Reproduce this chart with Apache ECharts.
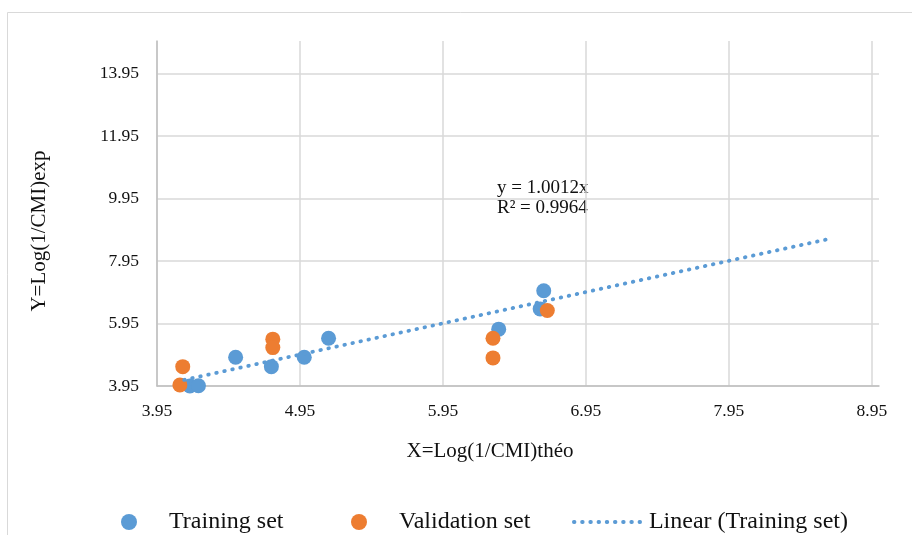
<!DOCTYPE html>
<html>
<head>
<meta charset="utf-8">
<script src="https://cdn.jsdelivr.net/npm/echarts@6/dist/echarts.min.js"></script>
<style>
  html, body { margin: 0; padding: 0; background: #fff; }
  #main { width: 912px; height: 535px; }
</style>
</head>
<body>
<div id="main"></div>
<script>
// points
var trainX = [4.18, 4.24, 4.50, 4.75, 4.98, 5.15, 6.34, 6.63, 6.655];
var trainY = [3.95, 3.96, 4.87, 4.57, 4.87, 5.48, 5.77, 6.42, 7.00];
var validX = [4.11, 4.13, 4.76, 4.76, 6.30, 6.30, 6.68];
var validY = [3.98, 4.57, 5.45, 5.18, 5.48, 4.85, 6.37];
// trendline ends (y = 1.0012x)
var trendX = [4.14, 8.66];
var trendY = [4.145, 8.67];

var legendNames = ['Training set', 'Validation set', 'Linear (Training set)'];
var eqLines = ['y = 1.0012x', 'R² = 0.9964'];

function pairs(xs, ys) {
  var out = [];
  for (var i = 0; i < xs.length; i++) out.push([xs[i], ys[i]]);
  return out;
}

var font = '"Liberation Serif", "Times New Roman", serif';
var trendStyle = { color: '#5b9bd5', width: 3.8, type: [0.6, 7.6], cap: 'round' };
var chart = echarts.init(document.getElementById('main'));

// one legend box per entry, so each can sit where it does in the picture
function legendBox(name, left, icon) {
  var item = { name: name };
  if (icon) item.icon = icon;
  else {
    item.itemStyle = { color: 'rgba(0,0,0,0)', borderColor: 'rgba(0,0,0,0)', opacity: 0 };
    item.lineStyle = trendStyle;
  }
  return {
    left: left, top: 505,
    itemWidth: 70, itemHeight: 16,
    textStyle: { fontFamily: font, fontSize: 24, color: '#111' },
    data: [item]
  };
}

var option = {
  backgroundColor: '#fff',
  animation: false,
  grid: { left: 157, top: 41, right: 33, bottom: 149 },
  xAxis: {
    type: 'value',
    min: 3.95, max: 9.0, interval: 1,
    axisLine: { lineStyle: { color: '#bfbfbf', width: 1.5 } },
    axisTick: { show: false },
    axisLabel: {
      showMaxLabel: false, margin: 16,
      color: '#111', fontFamily: font, fontSize: 17.5,
      formatter: function (v) { return v.toFixed(2); }
    },
    splitLine: { show: true, showMaxLine: false, lineStyle: { color: '#d9d9d9', width: 1.5 } }
  },
  yAxis: {
    type: 'value',
    min: 3.95, max: 15.0, interval: 2,
    axisLine: { show: true, lineStyle: { color: '#bfbfbf', width: 1.5 } },
    axisTick: { show: false },
    axisLabel: {
      showMaxLabel: false, margin: 18,
      color: '#111', fontFamily: font, fontSize: 17.5,
      formatter: function (v) { return v.toFixed(2); }
    },
    splitLine: { show: true, showMaxLine: false, lineStyle: { color: '#d9d9d9', width: 1.5 } }
  },
  legend: [
    legendBox(legendNames[0], 116, 'circle'),
    legendBox(legendNames[1], 346, 'circle'),
    legendBox(legendNames[2], 567, null)
  ],
  graphic: [
    { type: 'rect', silent: true, z: -1,
      shape: { x: 7.5, y: 12.5, width: 1000, height: 1000 },
      style: { fill: null, stroke: '#d9d9d9', lineWidth: 1 } },
    { type: 'text', x: 490, y: 451,
      style: { text: 'X=Log(1/CMI)théo', font: '21px ' + font, fill: '#111',
               textAlign: 'center', textVerticalAlign: 'middle' } },
    { type: 'text', x: 39, y: 231, rotation: Math.PI / 2,
      style: { text: 'Y=Log(1/CMI)exp', font: '21px ' + font, fill: '#111',
               textAlign: 'center', textVerticalAlign: 'middle' } },
    { type: 'text', x: 497, y: 178,
      style: { text: eqLines.join('\n'), font: '19px ' + font, fill: '#111',
               lineHeight: 20, textAlign: 'left', textVerticalAlign: 'top' } }
  ],
  series: [
    {
      name: legendNames[0], type: 'scatter', symbolSize: 15,
      itemStyle: { color: '#5b9bd5', opacity: 1 },
      data: pairs(trainX, trainY), z: 2
    },
    {
      name: legendNames[1], type: 'scatter', symbolSize: 15,
      itemStyle: { color: '#ed7d31', opacity: 1 },
      data: pairs(validX, validY), z: 3
    },
    {
      name: legendNames[2], type: 'line', symbol: 'none', z: 4,
      itemStyle: { color: '#5b9bd5' },
      lineStyle: trendStyle,
      data: pairs(trendX, trendY)
    }
  ]
};

chart.setOption(option);
</script>
</body>
</html>
